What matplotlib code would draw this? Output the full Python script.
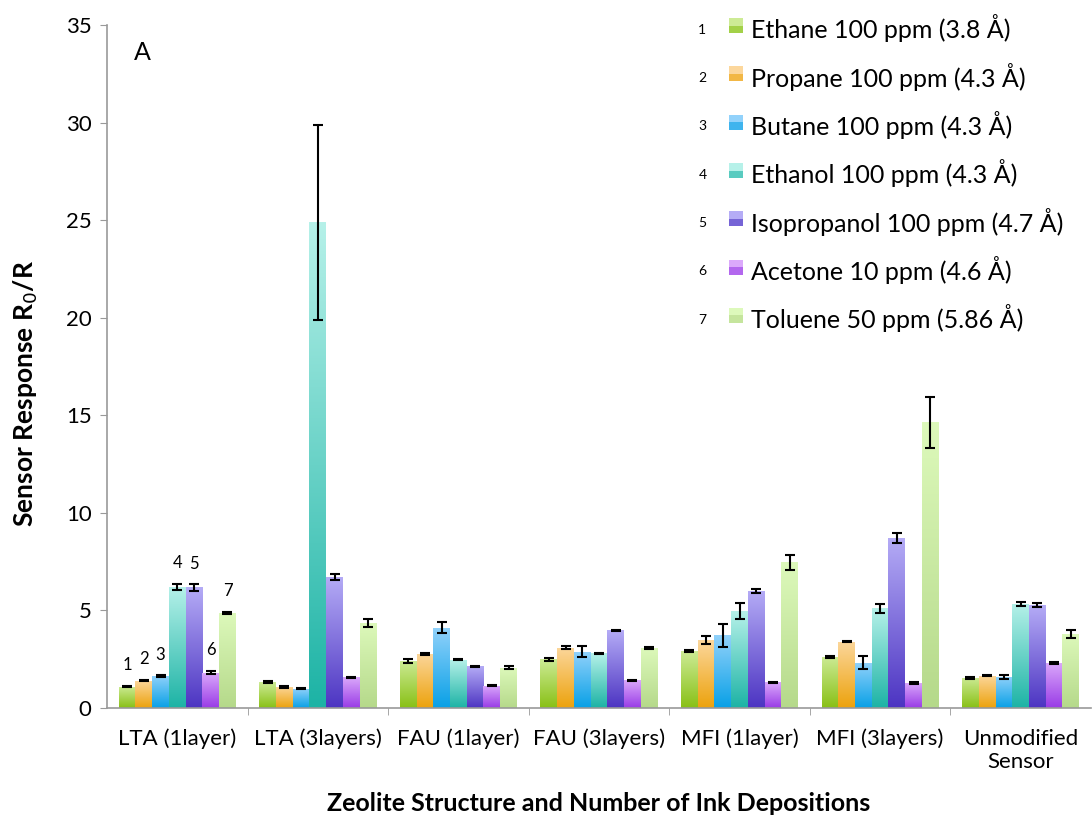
import numpy as np
import matplotlib.pyplot as plt
from matplotlib.colors import LinearSegmentedColormap
from matplotlib.patches import Rectangle

plt.rcParams['font.family'] = ['Lato', 'DejaVu Sans']

groups = ['LTA (1layer)', 'LTA (3layers)', 'FAU (1layer)', 'FAU (3layers)',
          'MFI (1layer)', 'MFI (3layers)', 'Unmodified\nSensor']
gases = ['Ethane 100 ppm (3.8 Å)', 'Propane 100 ppm (4.3 Å)', 'Butane 100 ppm (4.3 Å)',
         'Ethanol 100 ppm (4.3 Å)', 'Isopropanol 100 ppm (4.7 Å)', 'Acetone 10 ppm (4.6 Å)',
         'Toluene 50 ppm (5.86 Å)']

# values per gas, one entry per zeolite group
ethane      = [1.10, 1.32, 2.42, 2.49, 2.92, 2.62, 1.54]
propane     = [1.41, 1.08, 2.78, 3.09, 3.48, 3.40, 1.66]
butane      = [1.65, 0.99, 4.12, 2.88, 3.72, 2.33, 1.60]
ethanol     = [6.21, 24.90, 2.47, 2.80, 4.96, 5.11, 5.34]
isopropanol = [6.18, 6.73, 2.13, 3.98, 6.00, 8.73, 5.27]
acetone     = [1.82, 1.58, 1.15, 1.42, 1.32, 1.29, 2.32]
toluene     = [4.87, 4.36, 2.06, 3.10, 7.46, 14.65, 3.81]

ethane_err      = [0.04, 0.04, 0.09, 0.06, 0.03, 0.07, 0.03]
propane_err     = [0.03, 0.04, 0.05, 0.08, 0.20, 0.02, 0.02]
butane_err      = [0.04, 0.04, 0.28, 0.28, 0.60, 0.32, 0.10]
ethanol_err     = [0.17, 5.00, 0.03, 0.04, 0.42, 0.24, 0.10]
isopropanol_err = [0.17, 0.15, 0.03, 0.03, 0.10, 0.26, 0.10]
acetone_err     = [0.08, 0.03, 0.04, 0.03, 0.03, 0.04, 0.05]
toluene_err     = [0.07, 0.19, 0.08, 0.05, 0.37, 1.31, 0.20]

values = [ethane, propane, butane, ethanol, isopropanol, acetone, toluene]
errors = [ethane_err, propane_err, butane_err, ethanol_err, isopropanol_err, acetone_err, toluene_err]

# (bottom colour, top colour) for the excel-like gradients
colors = [('#88c015', '#cdeb95'), ('#eca20c', '#fcd79c'), ('#08a0e6', '#92d2fb'),
          ('#1cb3a5', '#b6f1e9'), ('#4c34c2', '#b5acf6'), ('#993be6', '#dba9fb'),
          ('#b5d98a', '#ddf9bb')]

fig = plt.figure(figsize=(10.92, 8.19), dpi=100)
ax = fig.add_axes([0.098, 0.1355, 0.901, 0.834])

n = len(values)
width = 0.119
x = np.arange(len(groups))
grad = np.linspace(0, 1, 256).reshape(-1, 1)

for j in range(n):
    pos = x + (j - (n - 1) / 2) * width
    cmap = LinearSegmentedColormap.from_list('g%d' % j, colors[j])
    bars = ax.bar(pos, values[j], width, color=colors[j][0], linewidth=0, zorder=2)
    for b in bars:
        im = ax.imshow(grad, extent=(b.get_x(), b.get_x() + b.get_width(), 0, b.get_height()),
                       origin='lower', cmap=cmap, aspect='auto', zorder=2.1)
        im.set_clip_path(b)
    ax.errorbar(pos, values[j], yerr=errors[j], fmt='none', ecolor='black',
                elinewidth=1.5, capsize=3.5, capthick=1.5, zorder=3)
    # numbers above the first group
    ax.annotate(str(j + 1), (pos[0], values[j][0] + errors[j][0]), xytext=(0, 9),
                textcoords='offset points', ha='center', va='bottom', fontsize=12)

ax.set_xlim(-0.5, len(groups) - 0.5)
ax.set_ylim(0, 35)
ax.set_yticks(range(0, 36, 5))
ax.tick_params(axis='y', labelsize=16, length=5, pad=6, color='#999999')
ax.set_xticks(x)
ax.set_xticklabels(groups, fontsize=16, linespacing=1.2)
ax.tick_params(axis='x', length=0, pad=15)
ax.set_xticks(np.arange(0.5, len(groups) - 0.5, 1), minor=True)
ax.tick_params(axis='x', which='minor', length=5, color='#999999')
for s in ['top', 'right']:
    ax.spines[s].set_visible(False)
for s in ['left', 'bottom']:
    ax.spines[s].set_color('#999999')
    ax.spines[s].set_linewidth(1.2)

ax.set_ylabel('Sensor Response R$_0$/R', fontsize=19, fontweight='bold')
ax.yaxis.set_label_coords(-0.068, 0.46)
ax.set_xlabel('Zeolite Structure and Number of Ink Depositions', fontsize=18,
              fontweight='bold', labelpad=14)
ax.text(0.036, 0.959, 'A', transform=ax.transAxes, fontsize=18, va='center', ha='center')

# legend drawn by hand to get the numbering on the left
for j in range(n):
    yy = 0.995 - j * 0.0707
    ax.text(0.601, yy - 0.002, str(j + 1), transform=ax.transAxes, fontsize=10, va='center')
    ax.add_patch(Rectangle((0.632, yy - 0.007), 0.0145, 0.022, transform=ax.transAxes,
                           facecolor=colors[j][1], edgecolor='none', clip_on=False))
    ax.add_patch(Rectangle((0.632, yy - 0.007), 0.0145, 0.011, transform=ax.transAxes,
                           facecolor=colors[j][0], edgecolor='none', clip_on=False, alpha=0.6))
    ax.text(0.655, yy, gases[j], transform=ax.transAxes, fontsize=18, va='center')

fig.savefig('out.png', dpi=100)
